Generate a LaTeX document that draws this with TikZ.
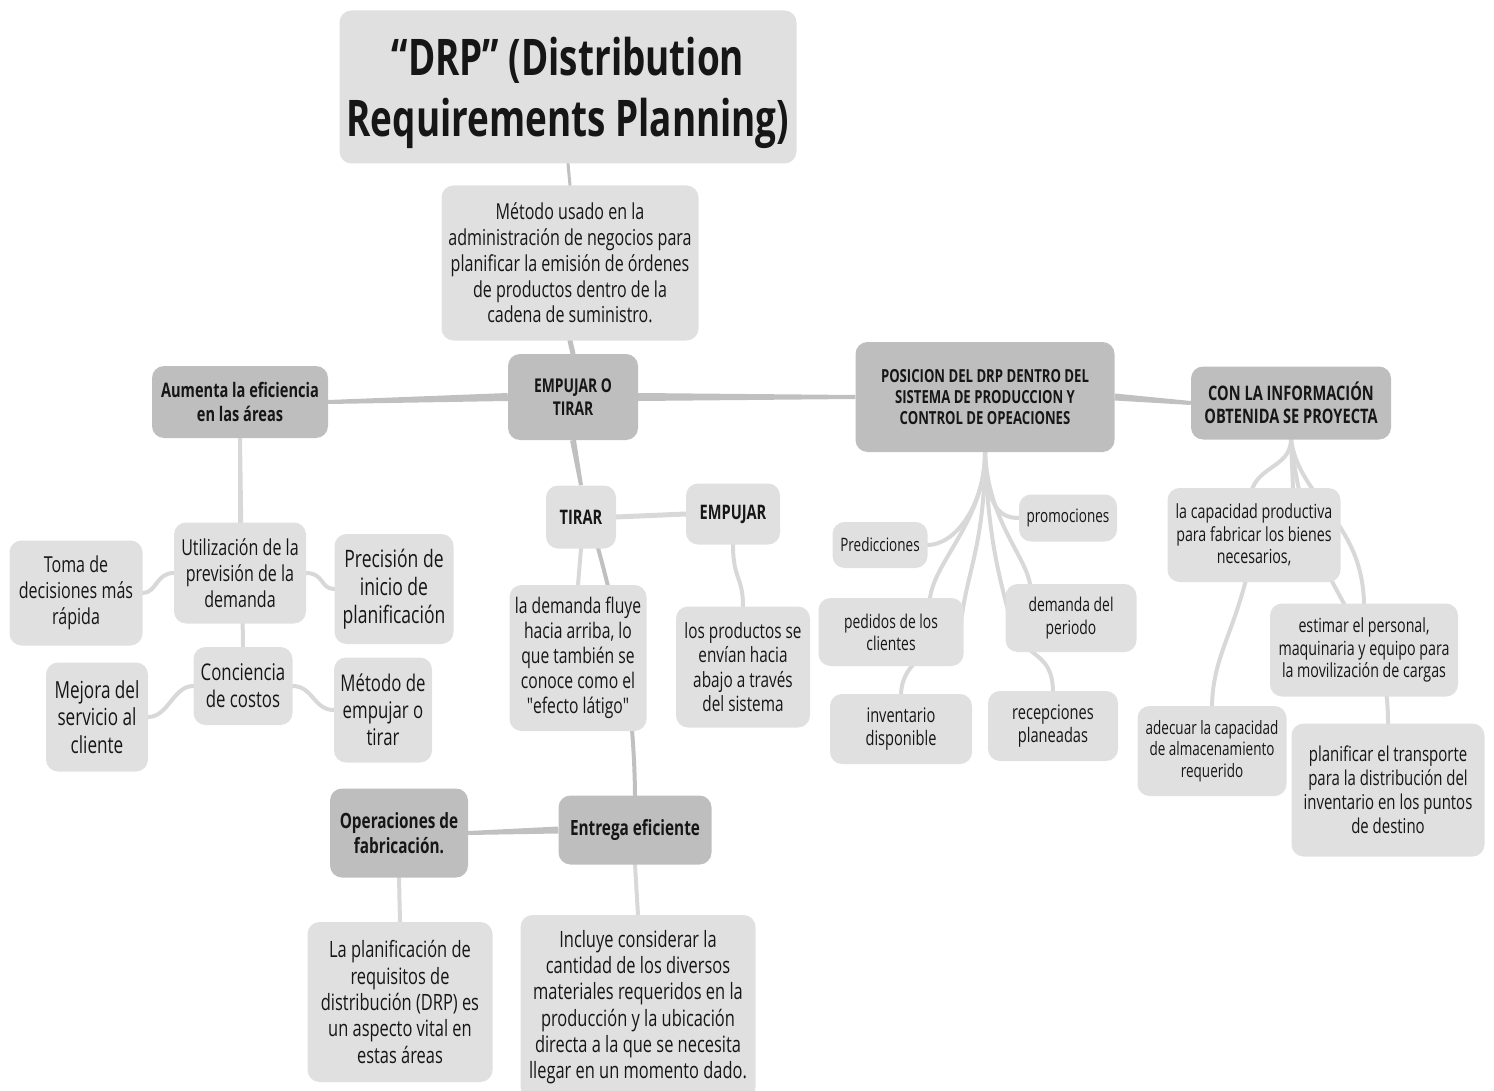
\documentclass[tikz,border=0pt]{standalone}
\usepackage{fontspec}
\setmainfont{Open Sans}[FakeStretch=0.73]
\newfontfamily\qfont{Open Sans}[FakeStretch=0.73, Ligatures=TeXOff]
\usetikzlibrary{calc}
\pgfdeclarelayer{background}
\pgfsetlayers{background,main}
\definecolor{lightbox}{RGB}{224,224,224}
\definecolor{darkbox}{RGB}{190,190,190}
\definecolor{txt}{RGB}{22,22,22}
\definecolor{linkmain}{RGB}{192,192,192}
\definecolor{linklight}{RGB}{216,216,216}
\newcommand{\fsz}[1]{\fontsize{#1pt}{\fpeval{#1*1.17}pt}\selectfont}
\newcommand{\sq}{{\qfont"}}
\newcommand{\taper}[5][linkmain]{\fill[#1] ($#2!#4!90:#3$) -- ($#3!#5!-90:#2$) -- ($#3!#5!90:#2$) -- ($#2!#4!-90:#3$) -- cycle;}
\tikzset{
  lbox/.style={rounded corners=12pt, fill=lightbox, align=center, text=txt, inner sep=0pt},
  dbox/.style={lbox, fill=darkbox},
  lk/.style={draw=linklight, line width=4pt, line cap=round},
  lm/.style={draw=linkmain, line width=4pt, line cap=round},
}
\begin{document}
\begin{tikzpicture}[x=1pt,y=-1pt]
\useasboundingbox (0,0) rectangle (1494,1091);
% nodes
\node[lbox, minimum width=457, minimum height=153] (title) at (568,87) {};
\node[align=center, text=txt, inner sep=0pt, font=\bfseries\fontsize{50.5pt}{61pt}\selectfont] (titletext) at (568,93) {“DRP” (Distribution\\Requirements Planning)};
\node[lbox, minimum width=257, minimum height=155, font=\fsz{22}] (metodo) at (570,263) {Método usado en la\\administración de negocios para\\planificar la emisión de órdenes\\de productos dentro de la\\cadena de suministro.};
\node[dbox, minimum width=130, minimum height=86, font=\bfseries\fsz{19}] (eot) at (573,397) {EMPUJAR O\\TIRAR};
\node[dbox, minimum width=176, minimum height=72, font=\bfseries\fsz{20}] (aum) at (240,402) {Aumenta la eficiencia\\en las áreas};
\node[dbox, minimum width=259, minimum height=110, font=\bfseries\fsz{18}] (pos) at (985,397) {POSICION DEL DRP DENTRO DEL\\SISTEMA DE PRODUCCION Y\\CONTROL DE OPEACIONES};
\node[dbox, minimum width=200, minimum height=73, font=\bfseries\fsz{20}] (con) at (1291,403) {CON LA INFORMACIÓN\\OBTENIDA SE PROYECTA};
\node[lbox, minimum width=132, minimum height=101, font=\fsz{22}] (util) at (240,573) {Utilización de la\\previsión de la\\demanda};
\node[lbox, minimum width=133, minimum height=105, font=\fsz{22}] (toma) at (76,593) {Toma de\\decisiones más\\rápida};
\node[lbox, minimum width=119, minimum height=110, font=\fsz{24}] (prec) at (394,589) {Precisión de\\inicio de\\planificación};
\node[lbox, minimum width=99, minimum height=78, font=\fsz{23}] (conc) at (243,686) {Conciencia\\de costos};
\node[lbox, minimum width=102, minimum height=109, font=\fsz{23.5}] (mej) at (97,717) {Mejora del\\servicio al\\cliente};
\node[lbox, minimum width=98, minimum height=105, font=\fsz{23}] (metd) at (383,710) {Método de\\empujar o\\tirar};
\node[lbox, minimum width=70, minimum height=63, font=\bfseries\fsz{20}] (tirar) at (581,517) {TIRAR};
\node[lbox, minimum width=94, minimum height=61, font=\bfseries\fsz{20}] (emp) at (733,514) {EMPUJAR};
\node[lbox, minimum width=137, minimum height=146, font=\fsz{21.5}] (dem) at (578,658) {la demanda fluye\\hacia arriba, lo\\que también se\\conoce como el\\\sq efecto látigo\sq};
\node[lbox, minimum width=134, minimum height=121, font=\fsz{21}] (prod) at (743,667) {los productos se\\envían hacia\\abajo a través\\del sistema};
\node[dbox, minimum width=138, minimum height=89, font=\bfseries\fsz{21}] (oper) at (399,833) {Operaciones de\\fabricación.};
\node[dbox, minimum width=153, minimum height=69, font=\bfseries\fsz{21}] (ent) at (635,830) {Entrega eficiente};
\node[lbox, minimum width=185, minimum height=160, font=\fsz{22.5}] (lapl) at (400,1002) {La planificación de\\requisitos de\\distribución (DRP) es\\un aspecto vital en\\estas áreas};
\node[lbox, minimum width=235, minimum height=184, font=\fsz{22.5}] (incl) at (638,1007) {Incluye considerar la\\cantidad de los diversos\\materiales requeridos en la\\producción y la ubicación\\directa a la que se necesita\\llegar en un momento dado.};
\node[lbox, minimum width=95, minimum height=46, font=\fsz{18.5}] (pred) at (880,545) {Predicciones};
\node[lbox, minimum width=98, minimum height=47, font=\fsz{18.5}] (prom) at (1068,518) {promociones};
\node[lbox, minimum width=145, minimum height=68, font=\fsz{19}] (ped) at (891,632) {pedidos de los\\clientes};
\node[lbox, minimum width=131, minimum height=68, font=\fsz{19}] (dmp) at (1071,618) {demanda del\\periodo};
\node[lbox, minimum width=142, minimum height=70, font=\fsz{20}] (inv) at (901,729) {inventario\\disponible};
\node[lbox, minimum width=130, minimum height=70, font=\fsz{20}] (rec) at (1053,726) {recepciones\\planeadas};
\node[lbox, minimum width=173, minimum height=94, font=\fsz{19.5}] (cap) at (1254,535) {la capacidad productiva\\para fabricar los bienes\\necesarios,};
\node[lbox, minimum width=188, minimum height=93, font=\fsz{19.5}] (est) at (1364,650) {estimar el personal,\\maquinaria y equipo para\\la movilización de cargas};
\node[lbox, minimum width=149, minimum height=90, font=\fsz{18.5}] (adec) at (1212,751) {adecuar la capacidad\\de almacenamiento\\requerido};
\node[lbox, minimum width=193, minimum height=133, font=\fsz{20.5}] (plan) at (1388,790) {planificar el transporte\\para la distribución del\\inventario en los puntos\\de destino};
% connectors
\begin{pgfonlayer}{background}
\draw[lm, line width=3pt] (title.south) -- (metodo.north);
\draw[lm, line width=5pt] (metodo.south) -- (eot.north);
\taper{(eot.west)}{(aum.east)}{4pt}{2pt}
\taper{(eot.east)}{(pos.west)}{4pt}{2pt}
\taper{(pos.east)}{(con.west)}{3.5pt}{2pt}
\taper{(eot.south)}{(tirar.north)}{3pt}{2pt}
\taper{(ent.west)}{(oper.east)}{3.5pt}{2pt}
% left branch
\draw[lk] (aum.south) -- (util.north);
\draw[lk] (aum.south) -- (conc.north);
\draw[lk] (util.west) .. controls +(-18,0) and +(14,0) .. (toma.east);
\draw[lk] (util.east) .. controls +(18,0) and +(-14,0) .. (prec.west);
\draw[lk] (conc.west) .. controls +(-20,0) and +(20,0) .. (mej.east);
\draw[lk] (conc.east) .. controls +(20,0) and +(-20,0) .. (metd.west);
% tirar / empujar
\draw[lk, line width=5pt] (tirar.east) -- (emp.west);
\draw[lk] (tirar.south) -- (dem.north);
\draw[lm] (598,548) .. controls (615,610) and (634,690) .. (ent.north);
\draw[lk] (emp.south) .. controls +(0,35) and +(0,-30) .. (prod.north);
\draw[lk] (ent.south) -- (incl.north);
\draw[lk] (oper.south) -- (lapl.north);
% posicion fan
\draw[lk] (pos.south) .. controls (985,505) and (955,545) .. (pred.east);
\draw[lk] (pos.south) .. controls (985,520) and (935,560) .. (930,598);
\draw[lk] (pos.south) .. controls (985,540) and (968,570) .. (962,615) .. controls (955,650) and (903,650) .. (inv.north);
\draw[lk] (pos.south) .. controls (988,520) and (1025,555) .. (1030,584);
\draw[lk] (pos.south) .. controls (988,540) and (1000,580) .. (1012,625) .. controls (1025,660) and (1052,650) .. (rec.north);
\draw[lk] (pos.south) .. controls (987,500) and (995,518) .. (prom.west);
% con fan
\draw[lk] (con.south) -- (1293,488);
\draw[lk] (con.south) .. controls (1290,470) and (1252,465) .. (1250,500) -- (1246,580) .. controls (1230,640) and (1213,660) .. (adec.north);
\draw[lk] (con.south) .. controls (1300,500) and (1362,520) .. (est.north);
\draw[lk] (con.south) .. controls (1300,520) and (1320,560) .. (1342,600) .. controls (1370,650) and (1388,660) .. (plan.north);
\end{pgfonlayer}
\end{tikzpicture}
\end{document}
